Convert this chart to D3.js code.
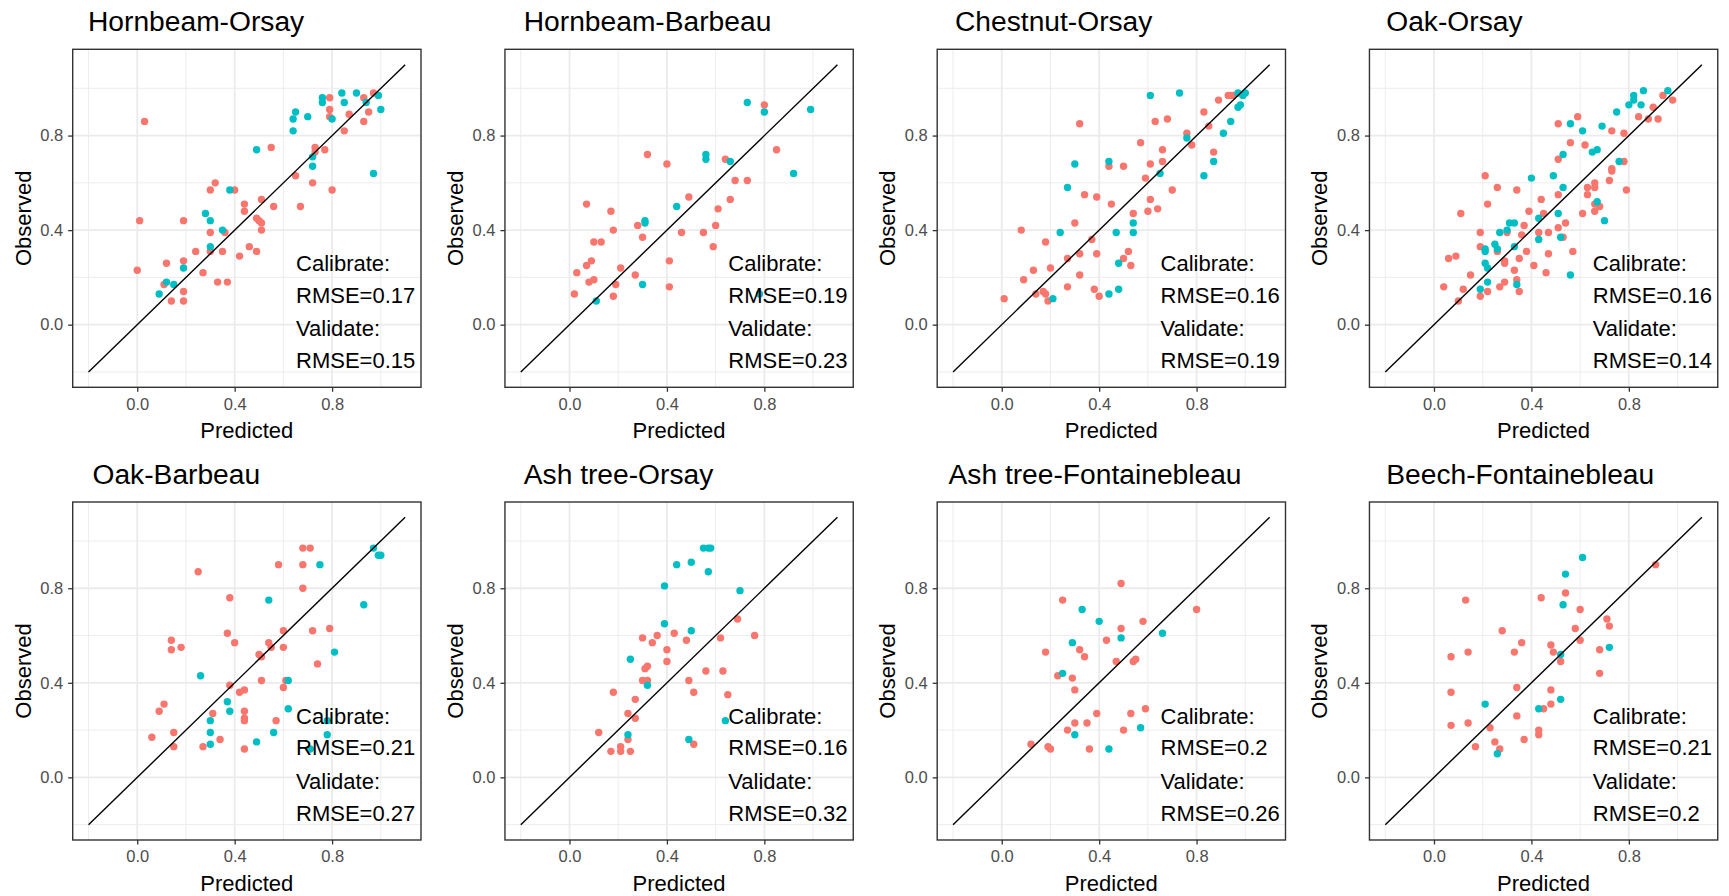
<!DOCTYPE html>
<html>
<head>
<meta charset="utf-8">
<script src="https://cdn.jsdelivr.net/npm/d3@7"></script>
<style>
  html, body { margin: 0; padding: 0; background: #ffffff; }
  svg { display: block; font-family: "Liberation Sans", Arial, Helvetica, sans-serif; }
</style>
</head>
<body>
<svg id="chart" width="1729" height="896"></svg>
<script>
// Panel titles and RMSE values per species-site
const panelTitles = ["Hornbeam-Orsay", "Hornbeam-Barbeau", "Chestnut-Orsay", "Oak-Orsay",
                     "Oak-Barbeau", "Ash tree-Orsay", "Ash tree-Fontainebleau", "Beech-Fontainebleau"];
const rmseCalibrate = ["0.17", "0.19", "0.16", "0.16", "0.21", "0.16", "0.2", "0.21"];
const rmseValidate  = ["0.15", "0.23", "0.19", "0.14", "0.27", "0.32", "0.26", "0.2"];
const tickValues = [0.0, 0.4, 0.8];
const tickLabels = ["0.0", "0.4", "0.8"];
const minorTicks = [-0.2, 0.2, 0.6, 1.0];
const oneToOne = [-0.2, 1.1];

// [predicted, observed] pairs
const hornbeamOrsayCal = [[0.03,0.86],[0.01,0.44],[0.00,0.23],[0.19,0.44],[0.32,0.60],[0.30,0.57],[0.40,0.57],[0.30,0.39],[0.24,0.31],[0.30,0.31],[0.35,0.31],[0.36,0.39],[0.19,0.27],[0.12,0.26],[0.11,0.17],[0.19,0.14],[0.19,0.10],[0.14,0.10],[0.27,0.22],[0.33,0.18],[0.37,0.18],[0.42,0.29],[0.46,0.33],[0.49,0.31],[0.44,0.51],[0.44,0.48],[0.49,0.45],[0.50,0.44],[0.51,0.43],[0.51,0.40],[0.51,0.53],[0.56,0.50],[0.55,0.75],[0.67,0.50],[0.65,0.63],[0.72,0.60],[0.80,0.57],[0.73,0.75],[0.73,0.73],[0.77,0.74],[0.79,0.96],[0.79,0.91],[0.79,0.88],[0.85,0.82],[0.87,0.89],[0.93,0.96],[0.93,0.86],[0.95,0.90],[0.97,0.98]];
const hornbeamOrsayVal = [[0.09,0.13],[0.12,0.18],[0.15,0.17],[0.19,0.24],[0.28,0.47],[0.30,0.44],[0.30,0.33],[0.35,0.40],[0.38,0.57],[0.49,0.74],[0.64,0.82],[0.64,0.87],[0.65,0.90],[0.70,0.88],[0.72,0.71],[0.72,0.67],[0.76,0.96],[0.76,0.94],[0.80,0.87],[0.84,0.98],[0.85,0.94],[0.90,0.98],[0.94,0.94],[0.99,0.97],[1.00,0.91],[0.97,0.64]];

const hornbeamBarbeauCal = [[0.02,0.13],[0.03,0.22],[0.07,0.25],[0.07,0.51],[0.08,0.18],[0.10,0.19],[0.09,0.27],[0.10,0.35],[0.13,0.35],[0.17,0.48],[0.18,0.40],[0.18,0.12],[0.19,0.17],[0.21,0.24],[0.27,0.21],[0.28,0.42],[0.30,0.37],[0.32,0.72],[0.40,0.68],[0.41,0.27],[0.41,0.16],[0.46,0.39],[0.49,0.54],[0.55,0.39],[0.59,0.33],[0.60,0.42],[0.61,0.49],[0.64,0.70],[0.66,0.53],[0.68,0.61],[0.73,0.61],[0.80,0.93],[0.85,0.74]];
const hornbeamBarbeauVal = [[0.11,0.10],[0.30,0.17],[0.31,0.43],[0.31,0.44],[0.44,0.50],[0.56,0.72],[0.56,0.70],[0.66,0.69],[0.73,0.94],[0.80,0.90],[0.92,0.64],[0.99,0.91],[0.78,0.13]];

const chestnutOrsayCal = [[0.01,0.11],[0.08,0.40],[0.09,0.19],[0.13,0.23],[0.14,0.13],[0.17,0.14],[0.18,0.13],[0.19,0.10],[0.18,0.35],[0.20,0.24],[0.27,0.28],[0.27,0.16],[0.30,0.43],[0.32,0.85],[0.32,0.30],[0.32,0.21],[0.34,0.55],[0.37,0.36],[0.39,0.54],[0.39,0.30],[0.38,0.15],[0.40,0.12],[0.44,0.67],[0.45,0.51],[0.50,0.67],[0.50,0.28],[0.52,0.31],[0.53,0.25],[0.54,0.47],[0.57,0.77],[0.59,0.62],[0.60,0.48],[0.61,0.53],[0.61,0.68],[0.63,0.86],[0.64,0.49],[0.66,0.74],[0.66,0.69],[0.68,0.87],[0.70,0.57],[0.76,0.81],[0.78,0.76],[0.83,0.90],[0.85,0.84],[0.87,0.73],[0.89,0.95],[0.93,0.97],[0.94,0.97],[0.95,0.97]];
const chestnutOrsayVal = [[0.21,0.11],[0.24,0.39],[0.27,0.58],[0.30,0.68],[0.44,0.13],[0.44,0.69],[0.47,0.39],[0.48,0.26],[0.48,0.15],[0.54,0.43],[0.54,0.39],[0.61,0.97],[0.65,0.64],[0.73,0.98],[0.76,0.79],[0.83,0.63],[0.87,0.69],[0.91,0.81],[0.94,0.86],[0.97,0.98],[0.97,0.92],[0.98,0.93],[0.99,0.97],[1.00,0.98]];

const oakOrsayCal = [[0.04,0.16],[0.06,0.28],[0.09,0.29],[0.10,0.10],[0.11,0.47],[0.12,0.15],[0.15,0.21],[0.19,0.39],[0.19,0.33],[0.19,0.12],[0.21,0.63],[0.22,0.14],[0.22,0.51],[0.26,0.58],[0.26,0.31],[0.27,0.16],[0.29,0.26],[0.29,0.27],[0.29,0.18],[0.30,0.39],[0.33,0.23],[0.34,0.19],[0.34,0.57],[0.35,0.14],[0.35,0.28],[0.37,0.42],[0.36,0.38],[0.38,0.31],[0.39,0.48],[0.41,0.25],[0.43,0.39],[0.44,0.53],[0.45,0.47],[0.46,0.22],[0.47,0.39],[0.47,0.30],[0.51,0.41],[0.51,0.55],[0.51,0.85],[0.51,0.70],[0.53,0.37],[0.54,0.43],[0.56,0.77],[0.57,0.31],[0.59,0.88],[0.61,0.47],[0.62,0.76],[0.63,0.58],[0.63,0.55],[0.66,0.60],[0.66,0.58],[0.66,0.51],[0.66,0.48],[0.68,0.50],[0.72,0.61],[0.73,0.66],[0.73,0.65],[0.73,0.82],[0.78,0.81],[0.78,0.69],[0.79,0.57],[0.84,0.88],[0.88,0.87],[0.90,0.92],[0.92,0.87],[0.94,0.97],[0.98,0.95]];
const oakOrsayVal = [[0.19,0.15],[0.21,0.32],[0.21,0.31],[0.21,0.26],[0.22,0.24],[0.22,0.18],[0.25,0.34],[0.26,0.32],[0.27,0.39],[0.30,0.40],[0.31,0.43],[0.33,0.43],[0.33,0.33],[0.34,0.17],[0.40,0.62],[0.43,0.45],[0.43,0.36],[0.49,0.63],[0.51,0.47],[0.52,0.37],[0.53,0.58],[0.53,0.72],[0.56,0.85],[0.56,0.21],[0.61,0.82],[0.65,0.73],[0.67,0.74],[0.67,0.52],[0.69,0.84],[0.70,0.44],[0.75,0.90],[0.76,0.69],[0.80,0.93],[0.82,0.97],[0.82,0.95],[0.85,0.93],[0.86,0.99],[0.96,0.99]];

const oakBarbeauCal = [[0.06,0.17],[0.09,0.28],[0.11,0.31],[0.14,0.58],[0.14,0.54],[0.18,0.55],[0.15,0.19],[0.15,0.13],[0.25,0.87],[0.27,0.13],[0.31,0.27],[0.34,0.16],[0.38,0.76],[0.37,0.61],[0.40,0.57],[0.38,0.39],[0.42,0.36],[0.44,0.37],[0.44,0.28],[0.44,0.25],[0.44,0.24],[0.44,0.12],[0.50,0.52],[0.51,0.51],[0.51,0.41],[0.54,0.57],[0.55,0.55],[0.57,0.24],[0.58,0.90],[0.60,0.62],[0.60,0.55],[0.60,0.38],[0.61,0.41],[0.68,0.97],[0.71,0.97],[0.68,0.90],[0.68,0.80],[0.72,0.62],[0.74,0.48],[0.79,0.63]];
const oakBarbeauVal = [[0.26,0.43],[0.30,0.24],[0.30,0.19],[0.30,0.14],[0.37,0.32],[0.38,0.28],[0.49,0.15],[0.54,0.75],[0.56,0.19],[0.62,0.41],[0.62,0.29],[0.71,0.12],[0.75,0.90],[0.78,0.24],[0.78,0.18],[0.81,0.53],[0.93,0.73],[0.97,0.97],[0.99,0.94],[1.00,0.94]];

const ashOrsayCal = [[0.12,0.19],[0.17,0.11],[0.18,0.36],[0.21,0.11],[0.21,0.13],[0.24,0.27],[0.24,0.16],[0.25,0.11],[0.27,0.33],[0.27,0.25],[0.30,0.59],[0.30,0.41],[0.31,0.46],[0.32,0.47],[0.32,0.41],[0.34,0.57],[0.36,0.60],[0.40,0.54],[0.40,0.49],[0.43,0.61],[0.48,0.58],[0.49,0.41],[0.51,0.36],[0.51,0.14],[0.56,0.45],[0.62,0.59],[0.63,0.45],[0.65,0.35],[0.69,0.67],[0.76,0.60]];
const ashOrsayVal = [[0.24,0.18],[0.25,0.50],[0.32,0.39],[0.39,0.81],[0.39,0.65],[0.44,0.90],[0.49,0.16],[0.50,0.62],[0.50,0.91],[0.55,0.97],[0.57,0.97],[0.58,0.97],[0.57,0.87],[0.64,0.24],[0.70,0.79]];

const ashFontCal = [[0.12,0.14],[0.18,0.53],[0.19,0.13],[0.20,0.12],[0.23,0.43],[0.25,0.75],[0.27,0.20],[0.29,0.42],[0.30,0.37],[0.30,0.23],[0.32,0.54],[0.34,0.51],[0.35,0.23],[0.36,0.12],[0.39,0.27],[0.43,0.58],[0.47,0.49],[0.49,0.82],[0.49,0.63],[0.50,0.20],[0.53,0.27],[0.54,0.49],[0.55,0.50],[0.58,0.66],[0.59,0.29],[0.80,0.71]];
const ashFontVal = [[0.25,0.44],[0.29,0.57],[0.30,0.18],[0.33,0.71],[0.40,0.66],[0.44,0.12],[0.49,0.59],[0.57,0.21],[0.66,0.61]];

const beechFontCal = [[0.07,0.51],[0.07,0.36],[0.07,0.22],[0.13,0.75],[0.14,0.53],[0.14,0.23],[0.17,0.13],[0.23,0.21],[0.25,0.15],[0.27,0.12],[0.28,0.62],[0.33,0.53],[0.34,0.38],[0.34,0.26],[0.36,0.57],[0.37,0.16],[0.43,0.20],[0.43,0.18],[0.44,0.76],[0.45,0.29],[0.48,0.31],[0.48,0.56],[0.48,0.37],[0.49,0.53],[0.52,0.49],[0.54,0.78],[0.58,0.63],[0.60,0.58],[0.60,0.71],[0.68,0.54],[0.68,0.44],[0.71,0.67],[0.72,0.64],[0.91,0.90]];
const beechFontVal = [[0.21,0.31],[0.26,0.10],[0.43,0.29],[0.52,0.52],[0.52,0.33],[0.53,0.73],[0.54,0.86],[0.61,0.93],[0.72,0.55]];

const calibrateSets = [hornbeamOrsayCal, hornbeamBarbeauCal, chestnutOrsayCal, oakOrsayCal,
                       oakBarbeauCal, ashOrsayCal, ashFontCal, beechFontCal];
const validateSets  = [hornbeamOrsayVal, hornbeamBarbeauVal, chestnutOrsayVal, oakOrsayVal,
                       oakBarbeauVal, ashOrsayVal, ashFontVal, beechFontVal];

// Layout
const cellW = 432.25;
const panelDx = 72.7, panelW = 348.3, panelH = 338;
const rowTops = [49.3, 502];
const titleDx = [88, 91.5, 90.5, 89.5, 92.5, 91.5, 84, 89.5];
const domain = [-0.265, 1.165];
const colCal = "#F8766D", colVal = "#00BFC4";

const svg = d3.select("#chart");
svg.append("rect").attr("width", 1729).attr("height", 896).attr("fill", "#ffffff");

panelTitles.forEach((title, i) => {
  const col = i % 4, row = Math.floor(i / 4);
  const left = col * cellW + panelDx;
  const top = rowTops[row];
  const x = d3.scaleLinear().domain(domain).range([0, panelW]);
  const y = d3.scaleLinear().domain(domain).range([panelH, 0]);

  const g = svg.append("g").attr("transform", `translate(${left},${top})`);

  // grid: minor then major
  g.append("g").selectAll("line.mx").data(minorTicks).join("line")
    .attr("x1", d => x(d)).attr("x2", d => x(d)).attr("y1", 0).attr("y2", panelH)
    .attr("stroke", "#EBEBEB").attr("stroke-width", 0.9);
  g.append("g").selectAll("line.my").data(minorTicks).join("line")
    .attr("y1", d => y(d)).attr("y2", d => y(d)).attr("x1", 0).attr("x2", panelW)
    .attr("stroke", "#EBEBEB").attr("stroke-width", 0.9);
  g.append("g").selectAll("line.gx").data(tickValues).join("line")
    .attr("x1", d => x(d)).attr("x2", d => x(d)).attr("y1", 0).attr("y2", panelH)
    .attr("stroke", "#EBEBEB").attr("stroke-width", 1.8);
  g.append("g").selectAll("line.gy").data(tickValues).join("line")
    .attr("y1", d => y(d)).attr("y2", d => y(d)).attr("x1", 0).attr("x2", panelW)
    .attr("stroke", "#EBEBEB").attr("stroke-width", 1.8);

  // points
  const pts = g.append("g");
  pts.selectAll("circle.cal").data(calibrateSets[i]).join("circle")
    .attr("cx", d => x(d[0])).attr("cy", d => y(d[1])).attr("r", 3.7).attr("fill", colCal);
  pts.selectAll("circle.val").data(validateSets[i]).join("circle")
    .attr("cx", d => x(d[0])).attr("cy", d => y(d[1])).attr("r", 3.7).attr("fill", colVal);

  // 1:1 line
  g.append("line")
    .attr("x1", x(oneToOne[0])).attr("y1", y(oneToOne[0]))
    .attr("x2", x(oneToOne[1])).attr("y2", y(oneToOne[1]))
    .attr("stroke", "#000000").attr("stroke-width", 1.4);

  // annotation
  const ann = ["Calibrate:", "RMSE=" + rmseCalibrate[i], "Validate:", "RMSE=" + rmseValidate[i]];
  const annY = [0.225, 0.093, -0.049, -0.183];
  g.append("g").selectAll("text").data(ann).join("text")
    .attr("x", x(0.652)).attr("y", (d, k) => y(annY[k]))
    .attr("font-size", 22).attr("fill", "#000000").text(d => d);

  // axes
  const xAxis = d3.axisBottom(x).tickValues(tickValues).tickFormat((d, k) => tickLabels[k]).tickSize(4.5).tickPadding(6);
  const yAxis = d3.axisLeft(y).tickValues(tickValues).tickFormat((d, k) => tickLabels[k]).tickSize(4.5).tickPadding(5);
  const gx = g.append("g").attr("transform", `translate(0,${panelH})`).call(xAxis);
  const gy = g.append("g").call(yAxis);
  [gx, gy].forEach(a => {
    a.select(".domain").remove();
    a.selectAll(".tick line").attr("stroke", "#333333").attr("stroke-width", 1.3);
    a.selectAll(".tick text").attr("fill", "#4D4D4D").attr("font-size", 16.5)
      .attr("font-family", "Liberation Sans, Arial, sans-serif");
  });

  // panel border
  g.append("rect").attr("x", 0).attr("y", 0).attr("width", panelW).attr("height", panelH)
    .attr("fill", "none").attr("stroke", "#333333").attr("stroke-width", 1.4);

  // axis titles
  g.append("text").attr("x", panelW / 2).attr("y", panelH + 50.5)
    .attr("text-anchor", "middle").attr("font-size", 22).attr("fill", "#000000").text("Predicted");
  g.append("text").attr("transform", `translate(-42,${panelH / 2}) rotate(-90)`)
    .attr("text-anchor", "middle").attr("font-size", 22).attr("fill", "#000000").text("Observed");

  // panel title
  svg.append("text").attr("x", col * cellW + titleDx[i]).attr("y", top - 18)
    .attr("font-size", 28.2).attr("fill", "#000000").text(title);
});
</script>
</body>
</html>
